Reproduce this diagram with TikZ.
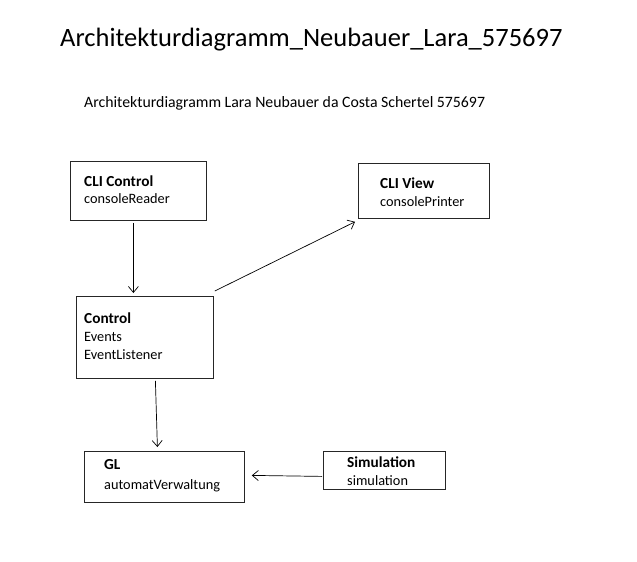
\documentclass[tikz,border=0pt]{standalone}
\usepackage{fontspec}
\setmainfont{Carlito}
\usetikzlibrary{arrows.meta}
\tikzset{
  box/.style={draw=black!85, line width=0.8pt, anchor=north west, inner sep=0pt},
  lbl/.style={anchor=base west, inner sep=0pt, font=\fontsize{14.3}{16}\selectfont},
  hd/.style={lbl, font=\fontsize{15.3}{17}\selectfont\bfseries},
  conn/.style={line width=0.7pt, -{Straight Barb[length=6pt,width=10pt]}},
}
\begin{document}
\begin{tikzpicture}[x=1pt,y=-1pt]
\useasboundingbox (0,0) rectangle (637,562);
\node[anchor=base west, inner sep=0pt, font=\fontsize{26.5}{30}\selectfont] (title) at (60,46) {Architekturdiagramm\_Neubauer\_Lara\_575697};
\node[anchor=base west, inner sep=0pt, font=\fontsize{15.8}{18}\selectfont] (sub) at (84,107) {Architekturdiagramm Lara Neubauer da Costa Schertel 575697};

\node[box, minimum width=136pt, minimum height=59pt] (cli) at (70,161) {};
\node[hd] (cliA) at (84,186) {CLI Control};
\node[lbl] (cliB) at (84,203) {consoleReader};

\node[box, minimum width=131pt, minimum height=55pt] (view) at (358,163) {};
\node[hd] (viewA) at (380,188) {CLI View};
\node[lbl] (viewB) at (380,206) {consolePrinter};

\node[box, minimum width=137pt, minimum height=82pt] (ctrl) at (76,296) {};
\node[hd] (ctrlA) at (84,323) {Control};
\node[lbl] (ctrlB) at (84,341) {Events};
\node[lbl] (ctrlC) at (84,359) {EventListener};

\node[box, minimum width=160pt, minimum height=51pt] (gl) at (84,451) {};
\node[hd] (glA) at (104,469) {GL};
\node[lbl] (glB) at (104,489) {automatVerwaltung};

\node[box, minimum width=122pt, minimum height=38pt] (sim) at (323,451) {};
\node[hd] (simA) at (347,467) {Simulation};
\node[lbl] (simB) at (347,485) {simulation};

\draw[conn] ([xshift=-5pt,yshift=-2pt]cli.south) -- ([xshift=-11.5pt,yshift=3pt]ctrl.north);
\draw[conn] ([xshift=1pt,yshift=5pt]ctrl.north east) -- ([xshift=-3pt,yshift=-3pt]view.south west);
\draw[conn] ([xshift=10.5pt,yshift=-2pt]ctrl.south) -- ([xshift=-7pt,yshift=4pt]gl.north);
\draw[conn] ([xshift=-1pt,yshift=-6pt]sim.west) -- ([xshift=7pt,yshift=1.5pt]gl.east);
\end{tikzpicture}
\end{document}
